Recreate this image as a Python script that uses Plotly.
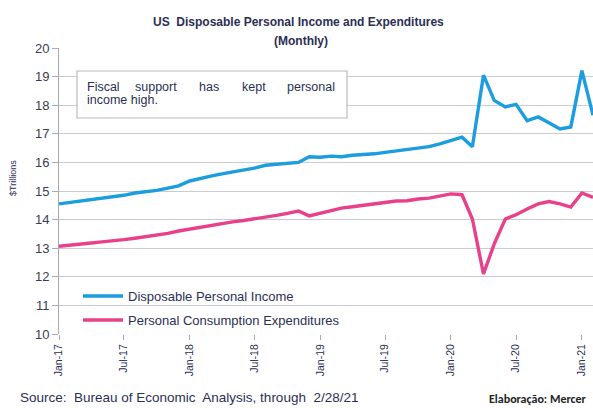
import plotly.graph_objects as go
import pandas as pd

months = pd.date_range("2017-01-01", periods=50, freq="MS")

income = [14.55, 14.60, 14.66, 14.70, 14.74, 14.80, 14.85, 14.93, 14.97, 15.02,
          15.10, 15.18, 15.35, 15.45, 15.52, 15.60, 15.66, 15.72, 15.80, 15.90,
          15.93, 15.97, 16.00, 16.20, 16.18, 16.22, 16.20, 16.25, 16.27, 16.30,
          16.35, 16.40, 16.45, 16.50, 16.55, 16.65, 16.78, 16.88, 16.55, 19.05,
          18.17, 17.94, 18.03, 17.46, 17.59, 17.38, 17.17, 17.24, 19.21, 17.65]

spending = [13.07, 13.10, 13.15, 13.18, 13.22, 13.25, 13.30, 13.35, 13.40, 13.45,
            13.52, 13.60, 13.67, 13.72, 13.78, 13.85, 13.92, 13.97, 14.02, 14.10,
            14.15, 14.22, 14.30, 14.13, 14.22, 14.30, 14.40, 14.45, 14.50, 14.57,
            14.62, 14.65, 14.66, 14.72, 14.75, 14.82, 14.90, 14.87, 14.02, 12.10,
            13.15, 14.02, 14.17, 14.37, 14.55, 14.63, 14.55, 14.44, 14.93, 14.78]

BLUE = "#1b9de0"
PINK = "#e8408a"
TXT = "#2b2f55"
GRID = "#c9cad2"

W, H = 593, 408
L, R, T, B = 59, 0, 48, 74
pw, ph = W - L - R, H - T - B

def px(x):
    return (x - L) / pw

def py(y):
    return (H - B - y) / ph

fig = go.Figure()
fig.add_trace(go.Scatter(x=months, y=income, mode="lines", name="Disposable Personal Income",
                         line=dict(color=BLUE, width=3.4), legend="legend"))
fig.add_trace(go.Scatter(x=months, y=spending, mode="lines", name="Personal Consumption Expenditures",
                         line=dict(color=PINK, width=3.4), legend="legend2"))

legend_common = dict(font=dict(family="Liberation Sans, Arial", size=13, color=TXT),
                     bgcolor="rgba(0,0,0,0)", borderwidth=0, itemwidth=40,
                     xanchor="left", yanchor="middle", tracegroupgap=0)

annos = []
for text, x, y in [("<b>US  Disposable Personal Income and Expenditures</b>", 298, 22),
                   ("<b>(Monthly)</b>", 301, 41)]:
    annos.append(dict(text=text, x=px(x), y=py(y), xref="paper", yref="paper",
                      showarrow=False, xanchor="center", yanchor="middle",
                      font=dict(family="Liberation Sans, Arial", size=12, color=TXT)))

# callout words (justified first line)
words1 = [("Fiscal", 85), ("support", 133), ("has", 197), ("kept", 240), ("personal", 285)]
for w, x in words1:
    annos.append(dict(text=w, x=px(x), y=py(87), xref="paper", yref="paper", showarrow=False,
                      xanchor="left", yanchor="middle",
                      font=dict(family="Liberation Sans, Arial", size=12.5, color=TXT)))
annos.append(dict(text="income high.", x=px(85), y=py(100), xref="paper", yref="paper",
                  showarrow=False, xanchor="left", yanchor="middle",
                  font=dict(family="Liberation Sans, Arial", size=12.5, color=TXT)))

annos.append(dict(text="$Trillions", x=px(13), y=py(178), xref="paper", yref="paper",
                  showarrow=False, textangle=-90, xanchor="center", yanchor="middle",
                  font=dict(family="Liberation Sans, Arial", size=9, color=TXT)))
annos.append(dict(text="Source:  Bureau of Economic  Analysis, through  2/28/21", x=px(18), y=py(397),
                  xref="paper", yref="paper", showarrow=False, xanchor="left", yanchor="middle",
                  font=dict(family="Liberation Sans, Arial", size=13.5, color=TXT)))
annos.append(dict(text="<b>Elaboração: Mercer</b>", x=px(487), y=py(399),
                  xref="paper", yref="paper", showarrow=False, xanchor="left", yanchor="middle",
                  font=dict(family="Carlito, Liberation Sans, Arial", size=12, color="#222222")))

shapes = [dict(type="rect", xref="paper", yref="paper", x0=px(77), x1=px(347), y0=py(118), y1=py(71),
               line=dict(color="#b8b9c0", width=1.2), fillcolor="white", layer="above")]

fig.update_layout(
    width=W, height=H,
    margin=dict(l=L, r=R, t=T, b=B, pad=0),
    paper_bgcolor="white", plot_bgcolor="white",
    showlegend=True,
    legend=dict(x=px(78), y=py(296), **legend_common),
    legend2=dict(x=px(78), y=py(320), **legend_common),
    annotations=annos,
    shapes=shapes,
    xaxis=dict(type="date", range=["2017-01-01", "2021-02-01"], tick0="2017-01-01", dtick="M6",
               tickformat="%b-%y", tickangle=-90, ticks="outside", ticklen=5, tickcolor="#a8a9b2",
               showgrid=False, showline=False, zeroline=False,
               tickfont=dict(family="Liberation Sans, Arial", size=10.5, color=TXT)),
    yaxis=dict(range=[10, 20], dtick=1, ticks="outside", ticklen=6, tickcolor="#a8a9b2",
               showgrid=True, gridcolor=GRID, gridwidth=1, showline=True, linecolor="#a8a9b2",
               linewidth=1, zeroline=False,
               tickfont=dict(family="Liberation Sans, Arial", size=13, color="#3a3d55")),
)

fig.write_html("out.html")
